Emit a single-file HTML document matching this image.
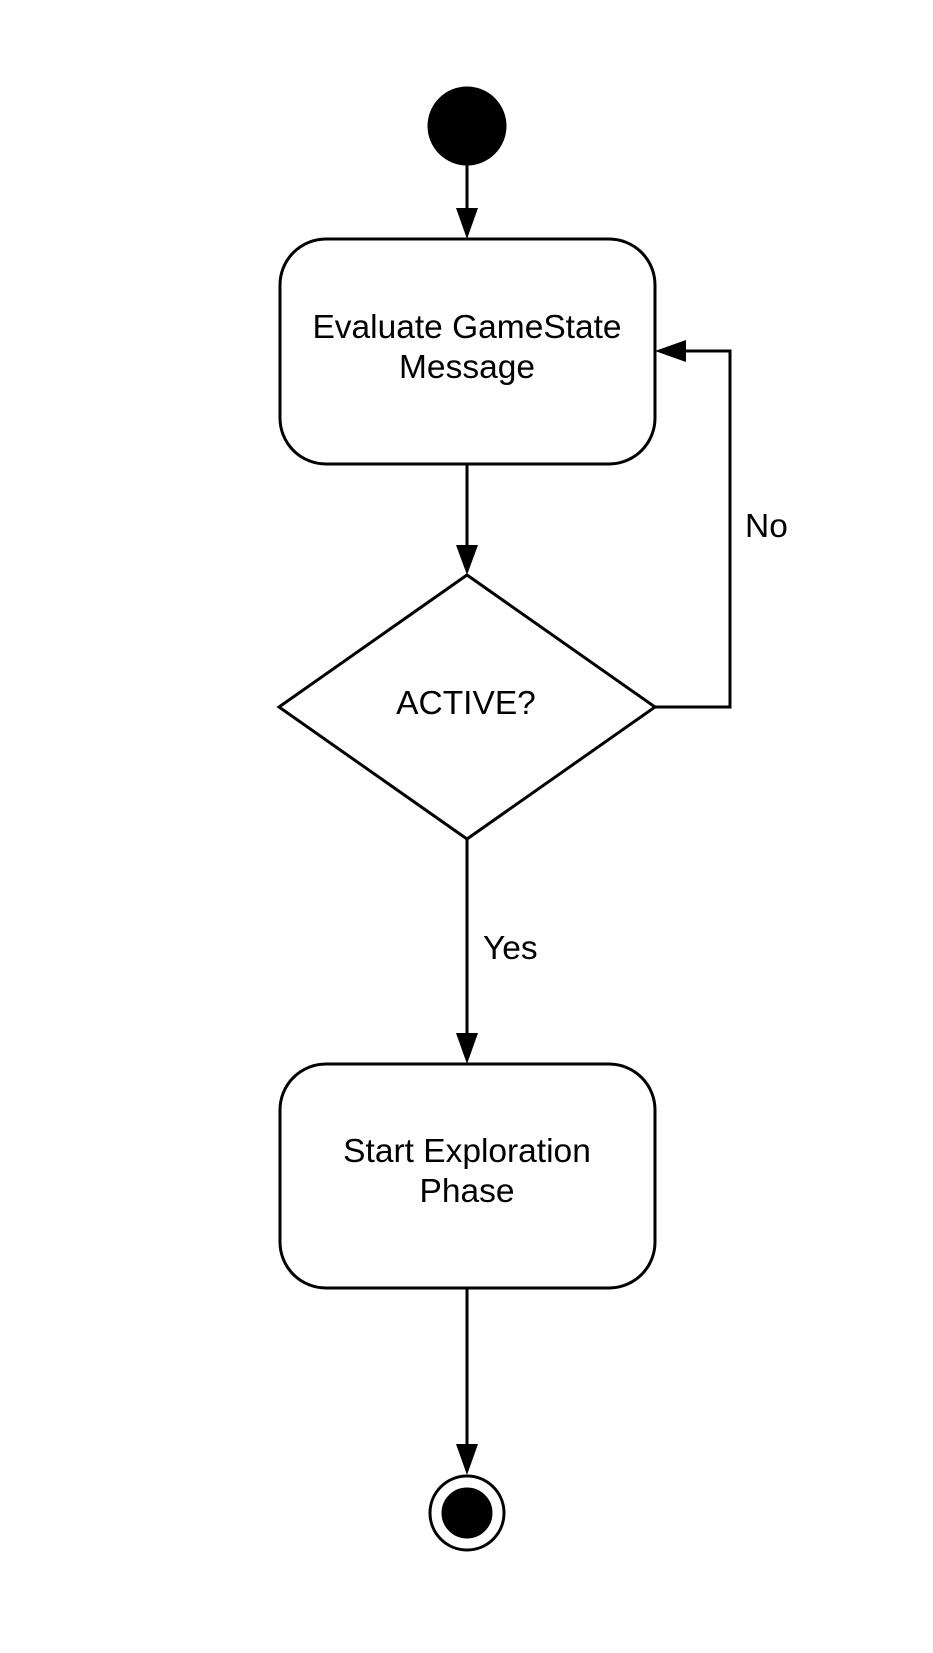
<!DOCTYPE html>
<html><head><meta charset="utf-8"><style>
html,body{margin:0;padding:0;background:#fff}
svg{display:block}
text{font-family:"Liberation Sans",sans-serif;font-size:33.5px;fill:#000}
</style></head><body>
<svg width="933" height="1653" viewBox="0 0 933 1653" xmlns="http://www.w3.org/2000/svg">
<rect width="933" height="1653" fill="#fff"/>
<g stroke="#000" stroke-width="3" fill="none">
<circle cx="467" cy="126" r="38" fill="#000"/>
<line x1="467" y1="164" x2="467" y2="212"/>
<rect x="280" y="239" width="375" height="225" rx="46" ry="46" fill="#fff"/>
<line x1="467" y1="464" x2="467" y2="550"/>
<polygon points="279,707 467,575 655,707 467,839" fill="#fff" stroke-linejoin="miter"/>
<polyline points="655,707 730,707 730,351 682,351"/>
<line x1="467" y1="839" x2="467" y2="1036"/>
<rect x="280" y="1064" width="375" height="224" rx="46" ry="46" fill="#fff"/>
<line x1="467" y1="1288" x2="467" y2="1448"/>
<circle cx="467" cy="1513" r="37" fill="#fff"/>
<circle cx="467" cy="1513" r="24" fill="#000"/>
</g>
<g fill="#000">
<polygon points="456,208 478,208 467,239"/>
<polygon points="456,545 478,545 467,575"/>
<polygon points="686,340 686,362 655,351"/>
<polygon points="456,1033 478,1033 467,1064"/>
<polygon points="456,1444 478,1444 467,1475"/>
</g>
<text x="467" y="338" text-anchor="middle">Evaluate GameState</text>
<text x="467" y="378" text-anchor="middle">Message</text>
<text x="466" y="714" text-anchor="middle">ACTIVE?</text>
<text x="745" y="537">No</text>
<text x="483" y="959">Yes</text>
<text x="467" y="1162" text-anchor="middle">Start Exploration</text>
<text x="467" y="1202" text-anchor="middle">Phase</text>
</svg>
</body></html>
